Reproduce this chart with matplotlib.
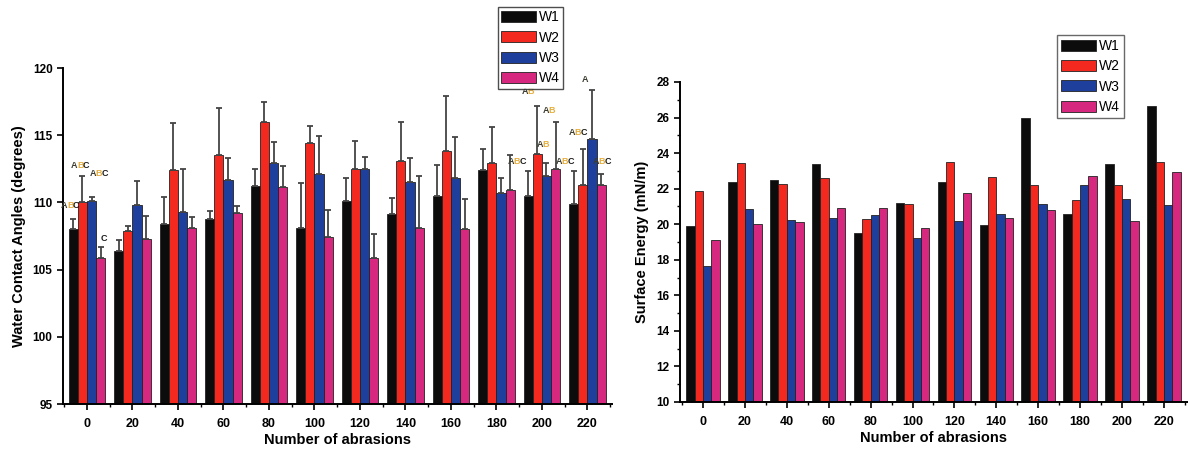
import numpy as np
import matplotlib
matplotlib.use("Agg")
import matplotlib.pyplot as plt

abrasions = ["0", "20", "40", "60", "80", "100", "120", "140", "160", "180", "200", "220"]
series = ["W1", "W2", "W3", "W4"]
colors = ["#0c0c0c", "#f3281f", "#1e3f9c", "#d6287f"]

# water contact angles (degrees)
wca_w1 = [108.0, 106.4, 108.4, 108.8, 111.2, 108.1, 110.1, 109.1, 110.45, 112.4, 110.45, 109.9]
wca_w2 = [110.0, 107.9, 112.4, 113.5, 115.95, 114.4, 112.45, 113.1, 113.8, 112.95, 113.6, 111.3]
wca_w3 = [110.1, 109.8, 109.3, 111.65, 112.9, 112.1, 112.45, 111.5, 111.8, 110.7, 112.0, 114.7]
wca_w4 = [105.85, 107.3, 108.1, 109.2, 111.15, 107.4, 105.85, 108.1, 108.0, 110.95, 112.5, 111.3]

# upper error bars
err_w1 = [0.8, 0.8, 2.0, 0.55, 1.25, 3.35, 1.7, 1.2, 2.35, 1.55, 1.85, 2.4]
err_w2 = [1.95, 0.36, 3.5, 3.56, 1.54, 1.3, 2.15, 2.9, 4.1, 2.65, 3.6, 2.7]
err_w3 = [0.3, 1.8, 3.2, 1.65, 1.6, 2.85, 0.95, 1.8, 3.1, 1.1, 0.9, 3.7]
err_w4 = [0.85, 1.7, 0.8, 0.5, 1.55, 2.0, 1.8, 3.85, 2.25, 2.6, 3.5, 0.8]

# surface energy (mN/m)
se_w1 = [19.88, 22.4, 22.5, 23.36, 19.5, 21.18, 22.35, 19.95, 25.95, 20.57, 23.38, 26.65]
se_w2 = [21.85, 23.45, 22.27, 22.6, 20.29, 21.12, 23.5, 22.63, 22.18, 21.38, 22.18, 23.5]
se_w3 = [17.66, 20.84, 20.26, 20.33, 20.5, 19.22, 20.2, 20.59, 21.13, 22.18, 21.41, 21.06]
se_w4 = [19.13, 20.01, 20.14, 20.91, 20.93, 19.79, 21.77, 20.33, 20.78, 22.71, 20.2, 22.95]

# significance letters: (group index, offset, y, text)
letters = [
    (0, -0.37, 109.4, "ABC"), (0, -0.15, 112.4, "ABC"), (0, 0.26, 111.8, "ABC"),
    (0, 0.38, 107.0, "C"), (9, 0.45, 112.7, "ABC"), (10, -0.31, 117.9, "AB"),
    (10, 0.02, 114.0, "AB"), (10, 0.15, 116.5, "AB"), (11, -0.5, 112.7, "ABC"),
    (11, -0.21, 114.9, "ABC"), (11, -0.05, 118.8, "A"), (11, 0.32, 112.7, "ABC"),
]
letter_colors = {"A": "#3c3c30", "B": "#e6ae3c", "C": "#1c1c1c"}

W, H = 1188, 451
fig = plt.figure(figsize=(W / 100, H / 100), dpi=100)
plt.rcParams["font.family"] = ["Liberation Sans", "DejaVu Sans"]

x = np.arange(len(abrasions))
bw = 0.2
offs = np.array([-1.5, -0.5, 0.5, 1.5]) * bw


def style_axes(ax, xlim, ylim, major, minor=None):
    ax.set_xlim(*xlim)
    ax.set_ylim(*ylim)
    for s in ["top", "right"]:
        ax.spines[s].set_visible(False)
    for s in ["left", "bottom"]:
        ax.spines[s].set_linewidth(1.4)
    ax.set_xticks(x)
    ax.set_xticklabels(abrasions, fontweight="bold", fontsize=9)
    ax.set_xticks(np.arange(-0.5, len(x), 1.0), minor=True)
    ax.set_yticks(major)
    if minor is not None:
        ax.set_yticks(minor, minor=True)
    ax.tick_params(axis="y", which="major", labelsize=8.5)
    ax.tick_params(axis="both", which="major", direction="out", length=4, width=1.2)
    ax.tick_params(axis="both", which="minor", direction="out", length=2.5, width=1.0)
    ax.tick_params(axis="x", which="major", pad=6)
    for lab in ax.get_yticklabels():
        lab.set_fontweight("bold")


# ---- left: water contact angle
ax1 = fig.add_axes([63 / W, 1 - 404 / H, (612 - 63) / W, (404 - 68) / H])
ax1.set_facecolor("none")
wca = [wca_w1, wca_w2, wca_w3, wca_w4]
errs = [err_w1, err_w2, err_w3, err_w4]
for i in range(4):
    ax1.bar(x + offs[i], wca[i], bw, color=colors[i], edgecolor="#222222", linewidth=0.6,
            label=series[i], zorder=2)
    ax1.errorbar(x + offs[i], wca[i], yerr=[np.zeros(len(x)), errs[i]], fmt="none",
                 ecolor="#444444", elinewidth=1.3, capsize=2.5, capthick=1.3, zorder=3)
style_axes(ax1, (-0.527, 11.54), (95, 120), np.arange(95, 121, 5))
ax1.set_xlabel("Number of abrasions", fontweight="bold", fontsize=10.5, labelpad=2)
ax1.set_ylabel("Water Contact Angles (degrees)", fontweight="bold", fontsize=10.5, labelpad=5)

for g, dx, yv, txt in letters:
    n = len(txt)
    for k, ch in enumerate(txt):
        ax1.annotate(ch, xy=(g + dx, yv), xytext=((k - (n - 1) / 2) * 4.3, 0),
                     textcoords="offset points", ha="center", va="bottom",
                     fontsize=6.5, fontweight="bold", color=letter_colors[ch],
                     annotation_clip=False, zorder=4)

leg1 = ax1.legend(loc="upper left", bbox_to_anchor=(498 / W, 1 - 7 / H),
                  bbox_transform=fig.transFigure, fontsize=10, frameon=True,
                  fancybox=False, edgecolor="#222222", handlelength=2.5, handleheight=0.85,
                  labelspacing=0.45, handletextpad=0.2, borderpad=0.25, borderaxespad=0)
leg1.get_frame().set_linewidth(1.0)

# ---- right: surface energy
ax2 = fig.add_axes([680 / W, 1 - 402 / H, (W - 680) / W, (402 - 82) / H])
se = [se_w1, se_w2, se_w3, se_w4]
for i in range(4):
    ax2.bar(x + offs[i], se[i], bw, color=colors[i], edgecolor="#222222", linewidth=0.6,
            label=series[i], zorder=2)
style_axes(ax2, (-0.549, 11.575), (10, 28), np.arange(10, 29, 2), np.arange(10, 28.5, 1))
ax2.set_xlabel("Number of abrasions", fontweight="bold", fontsize=10.5, labelpad=2)
ax2.set_ylabel("Surface Energy (mN/m)", fontweight="bold", fontsize=10.5, labelpad=5)

leg2 = ax2.legend(loc="upper left", bbox_to_anchor=(1057 / W, 1 - 35 / H),
                  bbox_transform=fig.transFigure, fontsize=10, frameon=True,
                  fancybox=False, edgecolor="#444444", handlelength=2.5, handleheight=0.85,
                  labelspacing=0.45, handletextpad=0.2, borderpad=0.3, borderaxespad=0)
leg2.get_frame().set_linewidth(1.0)

fig.savefig("out.png", dpi=100)
